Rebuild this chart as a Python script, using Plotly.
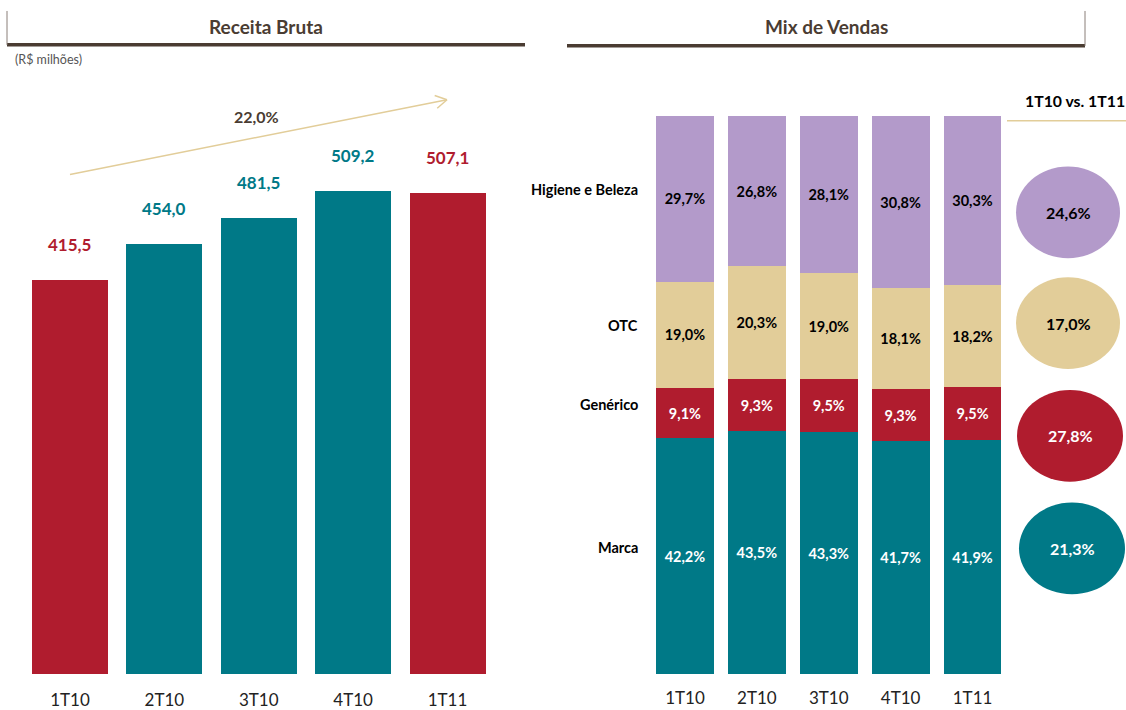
import math
import plotly.graph_objects as go

# ---------------- data ----------------
quarters = ["1T10", "2T10", "3T10", "4T10", "1T11"]
receita = [415.5, 454.0, 481.5, 509.2, 507.1]
receita_labels = ["415,5", "454,0", "481,5", "509,2", "507,1"]
receita_is_red = [True, False, False, False, True]
growth_label = "22,0%"

segments = ["Marca", "Genérico", "OTC", "Higiene e Beleza"]
mix_marca = [42.2, 43.5, 43.3, 41.7, 41.9]
mix_generico = [9.1, 9.3, 9.5, 9.3, 9.5]
mix_otc = [19.0, 20.3, 19.0, 18.1, 18.2]
mix_higiene = [29.7, 26.8, 28.1, 30.8, 30.3]
var_labels = {"Higiene e Beleza": "24,6%", "OTC": "17,0%", "Genérico": "27,8%", "Marca": "21,3%"}
comparison_title = "1T10 vs. 1T11"

# ---------------- style ----------------
W, H = 1126, 710
RED = "#B01C2E"
TEAL = "#007987"
PURPLE = "#B39ACA"
TAN = "#E2CD99"
BROWN = "#4A3C32"
FONT = "Lato, Open Sans, sans-serif"
TICKFONT = "Liberation Sans Narrow, Lato, sans-serif"


def px(x):
    return x / W


def py(y):
    return 1 - y / H


fig = go.Figure()

# Left: Receita Bruta
fig.add_trace(go.Bar(
    x=quarters, y=receita,
    marker=dict(color=[RED if r else TEAL for r in receita_is_red], line=dict(width=0)),
    xaxis="x", yaxis="y", showlegend=False, hoverinfo="skip",
))

# Right: Mix de Vendas (stacked)
mix = {"Marca": mix_marca, "Genérico": mix_generico, "OTC": mix_otc, "Higiene e Beleza": mix_higiene}
seg_colors = {"Marca": TEAL, "Genérico": RED, "OTC": TAN, "Higiene e Beleza": PURPLE}
seg_text_colors = {"Marca": "white", "Genérico": "white", "OTC": "black", "Higiene e Beleza": "black"}
for s in segments:
    vals = mix[s]
    fig.add_trace(go.Bar(
        x=quarters, y=vals,
        text=[f"<b>{v:.1f}%</b>".replace(".", ",") for v in vals],
        textposition="inside", insidetextanchor="middle",
        textfont=dict(color=seg_text_colors[s], size=14.5, family=FONT),
        marker=dict(color=seg_colors[s], line=dict(width=0)),
        xaxis="x2", yaxis="y2", showlegend=False, hoverinfo="skip",
    ))

annotations = []
shapes = []


def ann(x, y, text, size, color, xanchor="center", yanchor="middle", **kw):
    d = dict(x=px(x), y=py(y), xref="paper", yref="paper", text=text, showarrow=False,
             xanchor=xanchor, yanchor=yanchor, font=dict(size=size, color=color, family=FONT))
    d.update(kw)
    annotations.append(d)


# value labels above left bars
for q, v, lab, r in zip(quarters, receita, receita_labels, receita_is_red):
    annotations.append(dict(
        x=q, y=v, xref="x", yref="y", text=f"<b>{lab}</b>", showarrow=False,
        xanchor="center", yanchor="bottom", yshift=23,
        font=dict(size=17, color=RED if r else TEAL, family=FONT),
    ))

# segment name labels (left of mix bars)
cum = 0
for s in segments:
    v = mix[s][0]
    mid = cum + v / 2
    cum += v
    annotations.append(dict(
        x=px(640), xref="paper", y=mid, yref="y2", text=f"<b>{s}</b>", showarrow=False,
        xanchor="right", yanchor="middle", yshift=9, font=dict(size=14.5, color="black", family=FONT),
    ))

# headers and texts
ann(266, 27, "<b>Receita Bruta</b>", 19, BROWN)
ann(826, 27, "<b>Mix de Vendas</b>", 19, BROWN)
ann(13, 60, "(R$ milhões)", 12.5, "#555555", xanchor="left")
ann(256, 117, f"<b>{growth_label}</b>", 16, BROWN)
ann(1075, 101, f"<b>{comparison_title}</b>", 15.8, "black")

# header rules
shapes.append(dict(type="line", xref="paper", yref="paper", x0=px(7), x1=px(525), y0=py(45), y1=py(45),
                   line=dict(color=BROWN, width=3.5)))
shapes.append(dict(type="line", xref="paper", yref="paper", x0=px(7), x1=px(7), y0=py(11), y1=py(45),
                   line=dict(color="#8a7f78", width=1)))
shapes.append(dict(type="line", xref="paper", yref="paper", x0=px(567), x1=px(1085), y0=py(46), y1=py(46),
                   line=dict(color=BROWN, width=3.5)))
shapes.append(dict(type="line", xref="paper", yref="paper", x0=px(1085), x1=px(1085), y0=py(11), y1=py(46),
                   line=dict(color="#8a7f78", width=1)))
shapes.append(dict(type="line", xref="paper", yref="paper", x0=px(1007), x1=px(1126), y0=py(121), y1=py(121),
                   line=dict(color=TAN, width=1.5)))

# growth arrow
x0, y0, x1, y1 = 70, 175, 447, 100
shapes.append(dict(type="line", xref="paper", yref="paper", x0=px(x0), y0=py(y0), x1=px(x1), y1=py(y1),
                   line=dict(color=TAN, width=1.5)))
ang = math.atan2(y1 - y0, x1 - x0)
for d in (math.radians(150), math.radians(-150)):
    ex = x1 + 13 * math.cos(ang + d)
    ey = y1 + 13 * math.sin(ang + d)
    shapes.append(dict(type="line", xref="paper", yref="paper", x0=px(x1), y0=py(y1), x1=px(ex), y1=py(ey),
                       line=dict(color=TAN, width=1.5)))

# comparison ellipses
ellipses = [
    ("Higiene e Beleza", 1068, 213, 52, 46, PURPLE, "black"),
    ("OTC", 1068, 324, 52, 46, TAN, "black"),
    ("Genérico", 1070, 437, 53, 46, RED, "white"),
    ("Marca", 1072, 550, 53, 46, TEAL, "white"),
]
for s, cx, cy, rx, ry, col, tcol in ellipses:
    shapes.append(dict(type="circle", xref="paper", yref="paper", x0=px(cx - rx), x1=px(cx + rx),
                       y0=py(cy + ry), y1=py(cy - ry), fillcolor=col, line=dict(width=0), layer="below"))
    ann(cx, cy, f"<b>{var_labels[s]}</b>", 16, tcol)

base_pix = 676
left_scale = (base_pix - 281) / 415.5  # px per unit
left_top = base_pix / left_scale

fig.update_layout(
    width=W, height=H,
    margin=dict(l=0, r=0, t=0, b=0),
    paper_bgcolor="white", plot_bgcolor="white",
    barmode="stack",
    bargap=0.195,
    font=dict(family=FONT, color="black"),
    xaxis=dict(domain=[px(22.8), px(494.7)], anchor="y", showgrid=False, showline=False, zeroline=False,
               ticks="", tickfont=dict(size=17, color="#222222", family=TICKFONT),
               ticklabelstandoff=14, fixedrange=True),
    yaxis=dict(domain=[py(base_pix), 1], range=[0, left_top], visible=False, fixedrange=True),
    xaxis2=dict(domain=[px(649), px(1008.5)], anchor="y2", showgrid=False, showline=False, zeroline=False,
                ticks="", tickfont=dict(size=17, color="#222222", family=TICKFONT),
                ticklabelstandoff=12, fixedrange=True),
    yaxis2=dict(domain=[py(base_pix), py(116)], range=[0, 100], visible=False, fixedrange=True),
    annotations=annotations,
    shapes=shapes,
    uniformtext=dict(minsize=13, mode="show"),
)

fig.write_html("out.html", config={"displayModeBar": False},
               post_script="document.body.style.margin='0';document.body.style.overflow='hidden';")
